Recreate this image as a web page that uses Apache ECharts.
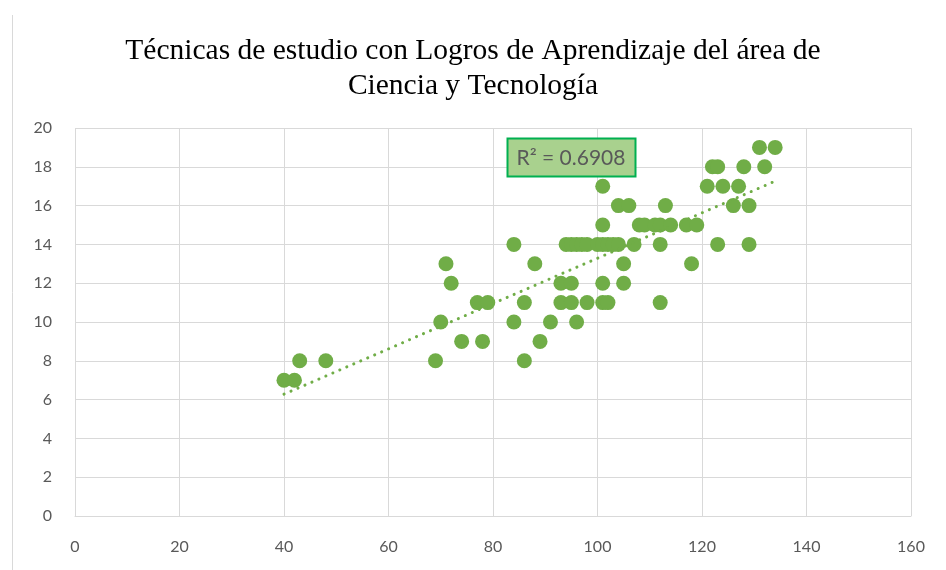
<!DOCTYPE html>
<html>
<head>
<meta charset="utf-8">
<script src="https://cdn.jsdelivr.net/npm/echarts@6/dist/echarts.min.js"></script>
<style>html,body{margin:0;padding:0;background:#fff}#c{width:946px;height:570px}</style>
</head>
<body>
<div id="c"></div>
<script>
var titleText = 'Técnicas de estudio con Logros de Aprendizaje del área de\nCiencia y Tecnología';
var r2Label = 'R² = 0.6908';
var xTicks = [0, 20, 40, 60, 80, 100, 120, 140, 160];
var yTicks = [0, 2, 4, 6, 8, 10, 12, 14, 16, 18, 20];
// Técnicas de estudio (x) values
var tecnicas = [40,42,43,48,69,70,71,72,74,77,78,79,84,84,86,86,88,89,91,93,93,95,95,96,98,101,102,101,105,105,112,118,123,129,
  94,95,96,97,98,100,101,102,103,104,107,112,
  101,108,109,111,112,114,117,119,
  104,106,113,126,129,
  101,121,124,127,
  122,123,128,132,
  131,134];
// Logros de aprendizaje (y) values
var logros = [7,7,8,8,8,10,13,12,9,11,9,11,14,10,11,8,13,9,10,12,11,12,11,10,11,11,11,12,12,13,11,13,14,14,
  14,14,14,14,14,14,14,14,14,14,14,14,
  15,15,15,15,15,15,15,15,
  16,16,16,16,16,
  17,17,17,17,
  18,18,18,18,
  19,19];

var pts = tecnicas.map(function(x,i){return [x, logros[i]];});
// linear regression trendline
var n = pts.length, sx=0, sy=0, sxx=0, sxy=0;
pts.forEach(function(p){sx+=p[0];sy+=p[1];sxx+=p[0]*p[0];sxy+=p[0]*p[1];});
var slope = (n*sxy - sx*sy)/(n*sxx - sx*sx);
var icpt = (sy - slope*sx)/n;
var xmin = Math.min.apply(null, tecnicas), xmax = Math.max.apply(null, tecnicas);
var trend = [[xmin, icpt+slope*xmin],[xmax, icpt+slope*xmax]];

var chart = echarts.init(document.getElementById('c'));
var gridColor = '#d9d9d9';
var labelFont = {color:'#595959', fontSize:16, fontFamily:'Lato'};
chart.setOption({
  animation:false,
  title:{text:titleText, left:468, top:29, textAlign:'center',
    textStyle:{fontFamily:'Liberation Serif', fontSize:29.5, fontWeight:'normal', color:'#000', lineHeight:35}},
  grid:{left:75, right:35, top:128, bottom:54},
  xAxis:{type:'value', min:0, max:160, interval:20,
    axisLine:{show:true, lineStyle:{color:gridColor, width:1}}, axisTick:{show:false},
    splitLine:{show:true, lineStyle:{color:gridColor, width:1}},
    axisLabel:Object.assign({margin:23, formatter:function(v){return xTicks.indexOf(v)>=0?String(v):'';}}, labelFont)},
  yAxis:{type:'value', min:0, max:20, interval:2,
    axisLine:{show:false}, axisTick:{show:false},
    splitLine:{show:true, lineStyle:{color:gridColor, width:1}},
    axisLabel:Object.assign({margin:23, formatter:function(v){return yTicks.indexOf(v)>=0?String(v):'';}}, labelFont)},
  graphic:[
    {type:'line', shape:{x1:12.5,y1:15,x2:12.5,y2:570}, style:{stroke:gridColor, lineWidth:1}, z:0},
    {type:'rect', shape:{x:507.5,y:138.5,width:128,height:38}, style:{fill:'#a9d18e', stroke:'#00b050', lineWidth:2}, z:100},
    {type:'text', x:571, y:158, style:{text:r2Label, fill:'#595959', font:'21px Lato', align:'center', verticalAlign:'middle'}, z:101}
  ],
  series:[
    {type:'scatter', data:pts, symbol:'circle', symbolSize:15, itemStyle:{color:'#70ad47', opacity:1}, z:3},
    {type:'line', data:trend, symbol:'none', z:4,
      lineStyle:{color:'#70ad47', width:3, type:[0.1,7.5], cap:'round'}}
  ]
});
</script>
</body>
</html>
